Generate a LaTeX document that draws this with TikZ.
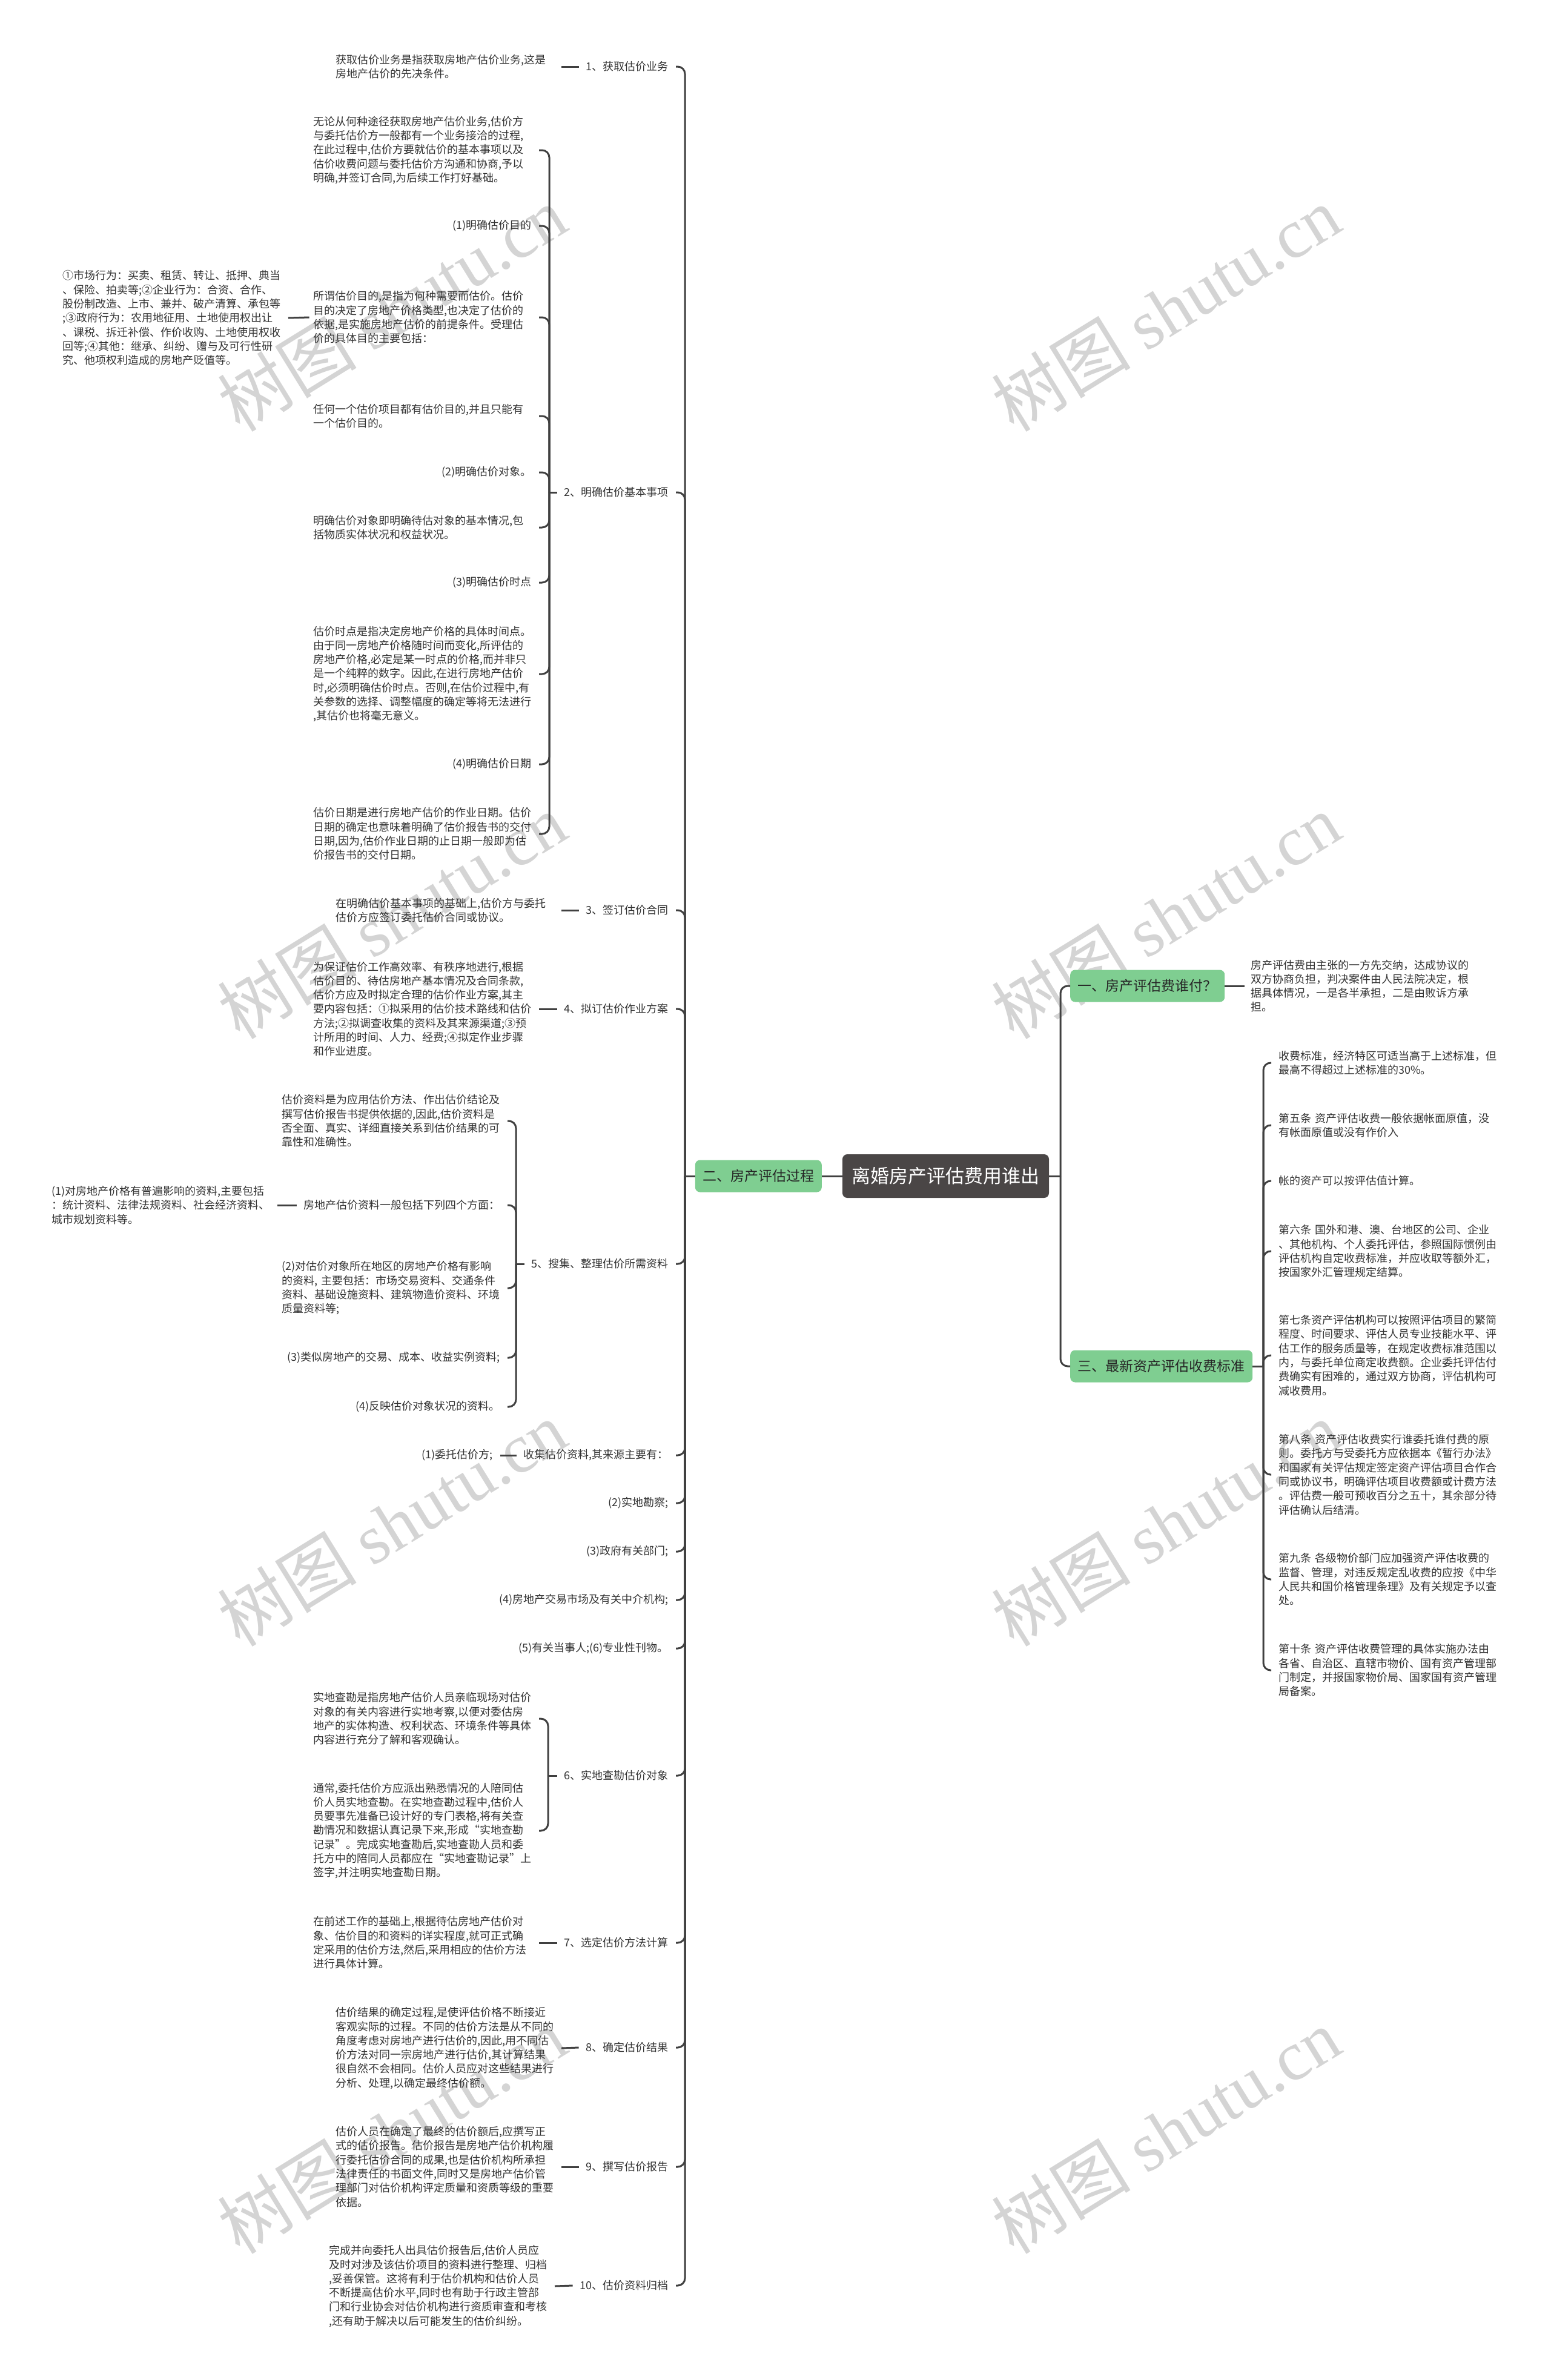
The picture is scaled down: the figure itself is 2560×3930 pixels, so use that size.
\documentclass[tikz,border=0pt]{standalone}
\usepackage{fontspec}
\setmainfont{Noto Sans CJK SC}
\newfontfamily\wmlatin{Liberation Serif}
\definecolor{linec}{HTML}{404040}
\definecolor{txtc}{HTML}{333333}
\definecolor{txtd}{HTML}{262626}
\definecolor{greenc}{HTML}{7FCE91}
\definecolor{rootc}{HTML}{4A4646}
\definecolor{wmc}{HTML}{D4D4D4}
\tikzset{
  connline/.style={draw=linec, line width=3pt, rounded corners=12pt},
  bodytxt/.style={font=\fontsize{18}{23.3}\selectfont, text=txtc, inner sep=0pt, align=left, text width=372pt},
  labtxt/.style={font=\fontsize{18}{23.3}\selectfont, text=txtc, inner xsep=12pt, inner ysep=4pt},
  grnnode/.style={fill=greenc, rounded corners=8pt, font=\fontsize{23}{28}\selectfont, text=txtd, inner xsep=12.5pt, inner ysep=0pt, minimum height=53pt},
  rootnode/.style={fill=rootc, rounded corners=8pt, font=\fontsize{31}{36}\selectfont, text=white, inner xsep=15.5pt, inner ysep=0pt, minimum height=72pt},
  wmark/.style={text=wmc, rotate=31.7, font=\fontsize{115}{120}\selectfont, inner sep=0pt}
}
\begin{document}
\begin{tikzpicture}[x=1pt,y=-1pt]
\fill[white] (0,0) rectangle (2560,3930);
\useasboundingbox (0,0) rectangle (2560,3930);
% watermarks
\foreach \wx in {647,1925}{\foreach \wy in {510,1513,2516,3519}{
  \node[wmark] (wm\wx-\wy) at (\wx,\wy) {树图 {\wmlatin shutu.cn}};}}

% central nodes
\node[rootnode] (root) at (1561.5,1942) {离婚房产评估费用谁出};
\node[grnnode, anchor=east] (er) at (1357,1942) {二、房产评估过程};
\node[grnnode, anchor=west] (yi) at (1767,1628) {一、房产评估费谁付？};
\node[grnnode, anchor=west] (san) at (1767,2256) {三、最新资产评估收费标准};
\coordinate (sL) at (1131,1942);
\coordinate (sR) at (1751,1942);
\draw[connline] (er.east) -- (root.west);
\draw[connline] (er.west) -- (sL);
\draw[connline] (root.east) -- (sR);
\draw[connline] (yi.west) -- (yi.west -| sR) -- (sR);
\draw[connline] (san.west) -- (san.west -| sR) -- (sR);

% ---------- left main branch labels
\node[labtxt, anchor=east] (L1) at (1116,110) {1、获取估价业务};
\node[labtxt, anchor=east] (L2) at (1116,813) {2、明确估价基本事项};
\node[labtxt, anchor=east] (L3) at (1116,1503) {3、签订估价合同};
\node[labtxt, anchor=east] (L4) at (1116,1666) {4、拟订估价作业方案};
\node[labtxt, anchor=east] (L5) at (1116,2087) {5、搜集、整理估价所需资料};
\node[labtxt, anchor=east] (Lsj) at (1116,2403) {收集估价资料,其来源主要有：};
\node[labtxt, anchor=east] (Ls2) at (1116,2482) {(2)实地勘察;};
\node[labtxt, anchor=east] (Ls3) at (1116,2562) {(3)政府有关部门;};
\node[labtxt, anchor=east] (Ls4) at (1116,2642) {(4)房地产交易市场及有关中介机构;};
\node[labtxt, anchor=east] (Ls5) at (1116,2722) {(5)有关当事人;(6)专业性刊物。};
\node[labtxt, anchor=east] (L6) at (1116,2932) {6、实地查勘估价对象};
\node[labtxt, anchor=east] (L7) at (1116,3208) {7、选定估价方法计算};
\node[labtxt, anchor=east] (L8) at (1116,3381) {8、确定估价结果};
\node[labtxt, anchor=east] (L9) at (1116,3578) {9、撰写估价报告};
\node[labtxt, anchor=east] (L10) at (1116,3774) {10、估价资料归档};
\foreach \n in {L1,L2,L3,L4,L5,Lsj,Ls2,Ls3,Ls4,Ls5,L6,L7,L8,L9,L10}{
  \draw[connline] (\n.east) -- (\n.east -| sL) -- (sL);}

% item 1
\node[bodytxt, anchor=east] (T1) at (927,110) {获取估价业务是指获取房地产估价业务,这是\\房地产估价的先决条件。};
\draw[connline] (T1.east) -- (L1.west);

% item 2
\coordinate (b2) at (907,813);
\draw[connline] (L2.west) -- (b2);
\node[bodytxt, anchor=east] (c21) at (890,248) {无论从何种途径获取房地产估价业务,估价方\\与委托估价方一般都有一个业务接洽的过程,\\在此过程中,估价方要就估价的基本事项以及\\估价收费问题与委托估价方沟通和协商,予以\\明确,并签订合同,为后续工作打好基础。};
\node[labtxt, anchor=east] (c22) at (890,373) {(1)明确估价目的};
\node[bodytxt, anchor=east] (c23) at (890,524) {所谓估价目的,是指为何种需要而估价。估价\\目的决定了房地产价格类型,也决定了估价的\\依据,是实施房地产估价的前提条件。受理估\\价的具体目的主要包括：};
\node[bodytxt, anchor=east] (c23a) at (476,525) {①市场行为：买卖、租赁、转让、抵押、典当\\、保险、拍卖等;②企业行为：合资、合作、\\股份制改造、上市、兼并、破产清算、承包等\\;③政府行为：农用地征用、土地使用权出让\\、课税、拆迁补偿、作价收购、土地使用权收\\回等;④其他：继承、纠纷、赠与及可行性研\\究、他项权利造成的房地产贬值等。};
\draw[connline] (c23a.east) -- ([xshift=-7pt]c23.west);
\node[bodytxt, anchor=east] (c24) at (890,687) {任何一个估价项目都有估价目的,并且只能有\\一个估价目的。};
\node[labtxt, anchor=east] (c25) at (890,780) {(2)明确估价对象。};
\node[bodytxt, anchor=east] (c26) at (890,871) {明确估价对象即明确待估对象的基本情况,包\\括物质实体状况和权益状况。};
\node[labtxt, anchor=east] (c27) at (890,962) {(3)明确估价时点};
\node[bodytxt, anchor=east] (c28) at (890,1113) {估价时点是指决定房地产价格的具体时间点。\\由于同一房地产价格随时间而变化,所评估的\\房地产价格,必定是某一时点的价格,而并非只\\是一个纯粹的数字。因此,在进行房地产估价\\时,必须明确估价时点。否则,在估价过程中,有\\关参数的选择、调整幅度的确定等将无法进行\\,其估价也将毫无意义。};
\node[labtxt, anchor=east] (c29) at (890,1262) {(4)明确估价日期};
\node[bodytxt, anchor=east] (c210) at (890,1377) {估价日期是进行房地产估价的作业日期。估价\\日期的确定也意味着明确了估价报告书的交付\\日期,因为,估价作业日期的止日期一般即为估\\价报告书的交付日期。};
\foreach \n in {c21,c22,c23,c24,c25,c26,c27,c28,c29,c210}{
  \draw[connline] (\n.east) -- (\n.east -| b2) -- (b2);}

% item 3
\node[bodytxt, anchor=east] (T3) at (927,1503) {在明确估价基本事项的基础上,估价方与委托\\估价方应签订委托估价合同或协议。};
\draw[connline] (T3.east) -- (L3.west);

% item 4
\node[bodytxt, anchor=east] (T4) at (890,1666) {为保证估价工作高效率、有秩序地进行,根据\\估价目的、待估房地产基本情况及合同条款,\\估价方应及时拟定合理的估价作业方案,其主\\要内容包括：①拟采用的估价技术路线和估价\\方法;②拟调查收集的资料及其来源渠道;③预\\计所用的时间、人力、经费;④拟定作业步骤\\和作业进度。};
\draw[connline] (T4.east) -- (L4.west);

% item 5
\coordinate (b5) at (852,2087);
\draw[connline] (L5.west) -- (b5);
\node[bodytxt, anchor=east] (c51) at (838,1851) {估价资料是为应用估价方法、作出估价结论及\\撰写估价报告书提供依据的,因此,估价资料是\\否全面、真实、详细直接关系到估价结果的可\\靠性和准确性。};
\node[labtxt, anchor=east] (c52) at (838,1990) {房地产估价资料一般包括下列四个方面：};
\node[bodytxt, anchor=east] (c52a) at (458,1990) {(1)对房地产价格有普遍影响的资料,主要包括\\：统计资料、法律法规资料、社会经济资料、\\城市规划资料等。};
\draw[connline] (c52a.east) -- (c52.west);
\node[bodytxt, anchor=east] (c53) at (838,2127) {(2)对估价对象所在地区的房地产价格有影响\\的资料, 主要包括：市场交易资料、交通条件\\资料、基础设施资料、建筑物造价资料、环境\\质量资料等;};
\node[labtxt, anchor=east] (c54) at (838,2242) {(3)类似房地产的交易、成本、收益实例资料;};
\node[labtxt, anchor=east] (c55) at (838,2323) {(4)反映估价对象状况的资料。};
\foreach \n in {c51,c52,c53,c54,c55}{
  \draw[connline] (\n.east) -- (\n.east -| b5) -- (b5);}

% collecting sources
\node[labtxt, anchor=east] (wt) at (826,2403) {(1)委托估价方;};
\draw[connline] (wt.east) -- (Lsj.west);

% item 6
\coordinate (b6) at (905,2932);
\draw[connline] (L6.west) -- (b6);
\node[bodytxt, anchor=east] (c61) at (890,2838) {实地查勘是指房地产估价人员亲临现场对估价\\对象的有关内容进行实地考察,以便对委估房\\地产的实体构造、权利状态、环境条件等具体\\内容进行充分了解和客观确认。};
\node[bodytxt, anchor=east] (c62) at (890,3023) {通常,委托估价方应派出熟悉情况的人陪同估\\价人员实地查勘。在实地查勘过程中,估价人\\员要事先准备已设计好的专门表格,将有关查\\勘情况和数据认真记录下来,形成“实地查勘\\记录”。完成实地查勘后,实地查勘人员和委\\托方中的陪同人员都应在“实地查勘记录”上\\签字,并注明实地查勘日期。};
\foreach \n in {c61,c62}{
  \draw[connline] (\n.east) -- (\n.east -| b6) -- (b6);}

% item 7
\node[bodytxt, anchor=east] (T7) at (890,3208) {在前述工作的基础上,根据待估房地产估价对\\象、估价目的和资料的详实程度,就可正式确\\定采用的估价方法,然后,采用相应的估价方法\\进行具体计算。};
\draw[connline] (T7.east) -- (L7.west);

% item 8
\node[bodytxt, anchor=east] (T8) at (927,3382) {估价结果的确定过程,是使评估价格不断接近\\客观实际的过程。不同的估价方法是从不同的\\角度考虑对房地产进行估价的,因此,用不同估\\价方法对同一宗房地产进行估价,其计算结果\\很自然不会相同。估价人员应对这些结果进行\\分析、处理,以确定最终估价额。};
\draw[connline] (T8.east) -- (L8.west);

% item 9
\node[bodytxt, anchor=east] (T9) at (927,3578) {估价人员在确定了最终的估价额后,应撰写正\\式的估价报告。估价报告是房地产估价机构履\\行委托估价合同的成果,也是估价机构所承担\\法律责任的书面文件,同时又是房地产估价管\\理部门对估价机构评定质量和资质等级的重要\\依据。};
\draw[connline] (T9.east) -- (L9.west);

% item 10
\node[bodytxt, anchor=east] (T10) at (916,3775) {完成并向委托人出具估价报告后,估价人员应\\及时对涉及该估价项目的资料进行整理、归档\\,妥善保管。这将有利于估价机构和估价人员\\不断提高估价水平,同时也有助于行政主管部\\门和行业协会对估价机构进行资质审查和考核\\,还有助于解决以后可能发生的估价纠纷。};
\draw[connline] (T10.east) -- (L10.west);

% ---------- right side
\node[bodytxt, anchor=west] (yiT) at (2065,1628) {房产评估费由主张的一方先交纳，达成协议的\\双方协商负担，判决案件由人民法院决定，根\\据具体情况，一是各半承担，二是由败诉方承\\担。};
\draw[connline] (yi.east) -- ([xshift=-10pt]yiT.west);

\coordinate (b3) at (2086,2256);
\draw[connline] (san.east) -- (b3);
\node[bodytxt, anchor=west] (r1) at (2111,1755) {收费标准，经济特区可适当高于上述标准，但\\最高不得超过上述标准的30\%。};
\node[bodytxt, anchor=west] (r2) at (2111,1858) {第五条 资产评估收费一般依据帐面原值，没\\有帐面原值或没有作价入};
\node[bodytxt, anchor=west] (r3) at (2111,1950) {帐的资产可以按评估值计算。};
\node[bodytxt, anchor=west] (r4) at (2111,2066) {第六条 国外和港、澳、台地区的公司、企业\\、其他机构、个人委托评估，参照国际惯例由\\评估机构自定收费标准，并应收取等额外汇，\\按国家外汇管理规定结算。};
\node[bodytxt, anchor=west] (r5) at (2111,2238) {第七条资产评估机构可以按照评估项目的繁简\\程度、时间要求、评估人员专业技能水平、评\\估工作的服务质量等，在规定收费标准范围以\\内，与委托单位商定收费额。企业委托评估付\\费确实有困难的，通过双方协商，评估机构可\\减收费用。};
\node[bodytxt, anchor=west] (r6) at (2111,2435) {第八条 资产评估收费实行谁委托谁付费的原\\则。委托方与受委托方应依据本《暂行办法》\\和国家有关评估规定签定资产评估项目合作合\\同或协议书，明确评估项目收费额或计费方法\\。评估费一般可预收百分之五十，其余部分待\\评估确认后结清。};
\node[bodytxt, anchor=west] (r7) at (2111,2608) {第九条 各级物价部门应加强资产评估收费的\\监督、管理，对违反规定乱收费的应按《中华\\人民共和国价格管理条理》及有关规定予以查\\处。};
\node[bodytxt, anchor=west] (r8) at (2111,2758) {第十条 资产评估收费管理的具体实施办法由\\各省、自治区、直辖市物价、国有资产管理部\\门制定，并报国家物价局、国家国有资产管理\\局备案。};
\foreach \n in {r1,r2,r3,r4,r5,r6,r7,r8}{
  \draw[connline] ([xshift=-12pt]\n.west) -- (\n.west -| b3) -- (b3);}
\end{tikzpicture}
\end{document}
